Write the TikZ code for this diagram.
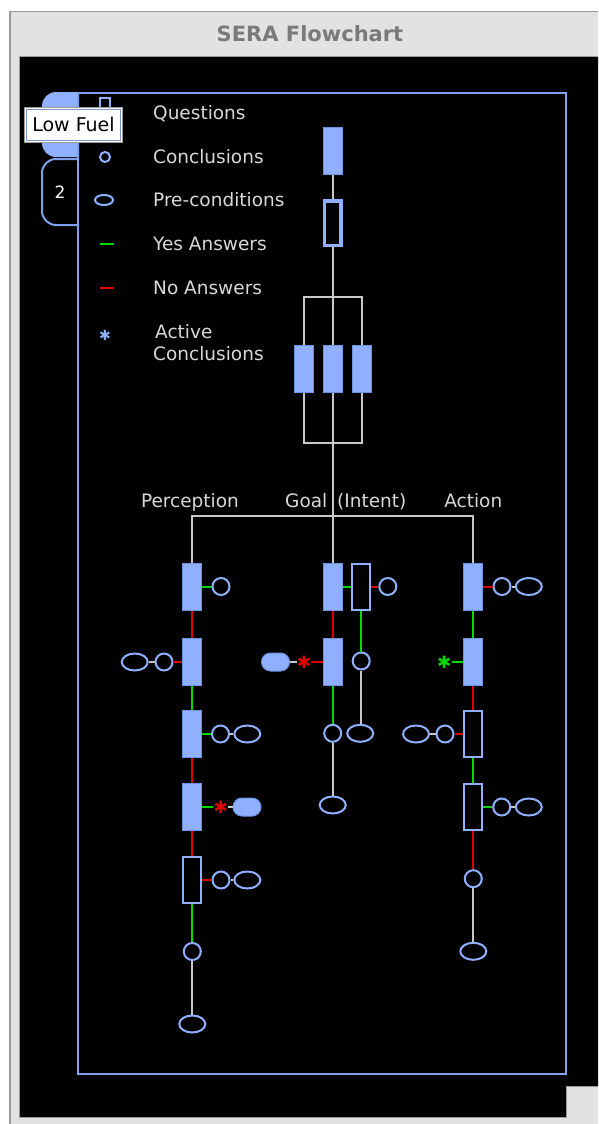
\documentclass[tikz,border=0pt]{standalone}
\usepackage{fontspec}
\setmainfont{DejaVu Sans}
\usetikzlibrary{shapes.geometric,shapes.misc}
\definecolor{qblue}{HTML}{8FB0FF}
\definecolor{qedge}{HTML}{6D92E4}
\definecolor{frm}{HTML}{7FA0EA}
\definecolor{txt}{HTML}{D8D8D8}
\definecolor{wline}{HTML}{C8C8C8}
\definecolor{yes}{HTML}{00D800}
\definecolor{no}{HTML}{E00000}
\definecolor{win}{HTML}{E2E2E2}
\definecolor{winedge}{HTML}{9A9A9A}
\definecolor{ttl}{HTML}{7A7A7A}
\pgfdeclarelayer{back}
\pgfsetlayers{back,main}
\begin{document}
\begin{tikzpicture}[x=1pt,y=-1pt,
  qf/.style={draw=qedge, line width=1pt, fill=qblue, minimum width=19pt, minimum height=47pt, inner sep=0pt},
  qo/.style={draw=qblue, line width=2pt, fill=black, minimum width=18pt, minimum height=46pt, inner sep=0pt},
  qothick/.style={draw=qblue, line width=3.5pt, fill=black, minimum width=16.5pt, minimum height=44.5pt, inner sep=0pt},
  cc/.style={circle, draw=qblue, line width=2pt, minimum size=17pt, inner sep=0pt},
  pe/.style={ellipse, draw=qblue, line width=2pt, minimum width=26pt, minimum height=17pt, inner sep=0pt},
  pf/.style={rounded rectangle, fill=qblue, draw=qedge, line width=1pt, minimum width=28pt, minimum height=18pt, inner sep=0pt},
  ast/.style={text=#1, font=\fontsize{17}{17}\selectfont, inner sep=0pt},
  yl/.style={draw=yes, line width=2pt},
  nl/.style={draw=no, line width=2pt},
  wl/.style={draw=wline, line width=2pt},
  lab/.style={text=txt, font=\fontsize{18.5}{20}\selectfont, inner sep=0pt},
]
\useasboundingbox (0,0) rectangle (598,1124);
\begin{pgfonlayer}{back}
\fill[white] (0,0) rectangle (598,1124);
\fill[win] (9,11) rectangle (598,1124);
\draw[winedge, line width=1.5pt] (9.75,1124) -- (9.75,11.75) -- (598,11.75);
\fill[black] (20,57) -- (598,57) -- (598,1086) -- (566,1086) -- (566,1117) -- (20,1117) -- cycle;
\draw[winedge, line width=1pt] (19.5,1117.5) -- (566.5,1117.5) -- (566.5,1086.5) -- (598,1086.5);
\draw[winedge, line width=1pt] (19.5,1117.5) -- (19.5,56.5) -- (598,56.5);
\end{pgfonlayer}
\node[font=\bfseries\fontsize{21}{22}\selectfont, text=ttl] (title) at (310,34) {SERA Flowchart};

% tabs
\fill[qblue, rounded corners=14pt] (79,92) -- (42,92) -- (42,157) -- (79,157);
\draw[frm, line width=2pt, rounded corners=14pt] (79,159) -- (42,159) -- (42,225) -- (79,225);
\node[text=white, font=\fontsize{17}{18}\selectfont] (tab2) at (60,192) {2};
% frame
\draw[frm, line width=2pt] (78,93) rectangle (566,1074);

% legend
\node[draw=qblue, line width=2pt, minimum width=10pt, minimum height=16pt, inner sep=0pt] (lq) at (105,106) {};
\node[draw=winedge, line width=0.8pt, fill=white, minimum width=98pt, minimum height=35pt, inner sep=0pt,
      font=\fontsize{19}{20}\selectfont, text=black] (tip) at (73.5,124.5) {Low Fuel};
\draw[frm!70!gray, line width=0.6pt] ([shift={(2.5,2.5)}]tip.north west) rectangle ([shift={(-2.5,-2.5)}]tip.south east);
\node[circle, draw=qblue, line width=2pt, minimum size=10pt, inner sep=0pt] (lc) at (105,157) {};
\node[ellipse, draw=qblue, line width=2pt, minimum width=18pt, minimum height=10pt, inner sep=0pt] (lp) at (104,200) {};
\coordinate (ly1) at (100,244); \coordinate (ly2) at (114,244);
\coordinate (ln1) at (100,288); \coordinate (ln2) at (114,288);
\draw[yl] (ly1) -- (ly2);
\draw[nl] (ln1) -- (ln2);
\node[ast=qblue, font=\fontsize{14}{14}\selectfont] (la) at (105,335) {✱};
\node[lab, anchor=base west] (tq) at (153,119) {Questions};
\node[lab, anchor=base west] (tc) at (153,163) {Conclusions};
\node[lab, anchor=base west] (tp) at (153,206) {Pre-conditions};
\node[lab, anchor=base west] (ty) at (153,250.5) {Yes Answers};
\node[lab, anchor=base west] (tn) at (153,294) {No Answers};
\node[lab, anchor=base west] (ta) at (155,338) {Active};
\node[lab, anchor=base west] (tac) at (153,360) {Conclusions};

% top chain
\node[qf] (t1) at (332.7,150.5) {};
\node[qothick] (t2) at (332.7,223.3) {};
\coordinate (ptop) at (332.7,297.3);
\coordinate (pbot) at (332.7,442.7);
\node[qf] (r1) at (304.3,368.5) {};
\node[qf] (r2) at (332.7,368.5) {};
\node[qf] (r3) at (361.7,368.5) {};
\begin{pgfonlayer}{back}
\draw[wl] (r1 |- ptop) rectangle (r3 |- pbot);
\draw[wl] (ptop) -- (pbot);
\end{pgfonlayer}
\draw[wl] (t1.south) -- (t2.north);
\draw[wl] (t2.south) -- (ptop);

% labels
\node[lab, anchor=base] (lper) at (190,507) {Perception};
\node[lab, anchor=base east] (lgoal) at (327.5,507) {Goal};
\node[lab, anchor=base west] (lint) at (337,507) {(Intent)};
\node[lab, anchor=base] (lact) at (473.3,507) {Action};

% Perception
\node[qf] (p1) at (192.3,586.5) {};
\node[cc] (pc1) at (221,586.5) {};
\node[qf] (p2) at (192.3,662) {};
\node[cc] (pc2) at (164,662) {};
\node[pe] (pe2) at (134.7,662) {};
\node[qf] (p3) at (192.3,734) {};
\node[cc] (pc3) at (220.5,734) {};
\node[pe] (pe3) at (247.3,734) {};
\node[qf] (p4) at (192.3,807) {};
\node[ast=no] (px4) at (220.7,807) {✱};
\node[pf] (pf4) at (247,807) {};
\node[qo] (p5) at (192.3,880) {};
\node[cc] (pc5) at (221,880) {};
\node[pe] (pe5) at (247.3,880) {};
\node[cc] (pc6) at (192.3,951.5) {};
\node[pe] (pe7) at (192.3,1024) {};

% Goal
\node[qf] (g1) at (332.7,586.5) {};
\node[qo] (g1b) at (361.2,586.5) {};
\node[cc] (gc1) at (387.8,586.5) {};
\node[cc] (gc2) at (361.2,661) {};
\node[pe] (ge2) at (360.2,733.3) {};
\node[qf] (g2) at (332.7,662) {};
\node[ast=no] (gx2) at (304,662) {✱};
\node[pf] (gf2) at (275.5,662) {};
\node[cc] (gc3) at (332.7,733.3) {};
\node[pe] (ge4) at (332.7,805) {};

% Action
\node[qf] (a1) at (473.3,586.5) {};
\node[cc] (ac1) at (502,586.5) {};
\node[pe] (ae1) at (528.8,586.5) {};
\node[qf] (a2) at (473.3,662) {};
\node[ast=yes] (ax2) at (444.3,662) {✱};
\node[qo] (a3) at (473.3,734) {};
\node[cc] (ac3) at (445,734) {};
\node[pe] (ae3) at (416,734) {};
\node[qo] (a4) at (473.3,807) {};
\node[cc] (ac4) at (501.7,807) {};
\node[pe] (ae4) at (528.8,807) {};
\node[cc] (ac5) at (473.3,878.7) {};
\node[pe] (ae5) at (473.3,951.3) {};

% branch lines
\coordinate (jn) at (332.7,515.7);
\draw[wl] (pbot) -- (g1.north);
\draw[wl] (p1.north) -- (p1.north |- jn) -- (a1.north |- jn) -- (a1.north);

% Perception connectors
\draw[yl] (p1.east) -- (pc1.west);
\draw[nl] (p1.south) -- (p2.north);
\draw[nl] (p2.west) -- (pc2.east);
\draw[wl] (pc2.west) -- (pe2.east);
\draw[yl] (p2.south) -- (p3.north);
\draw[yl] (p3.east) -- (pc3.west);
\draw[wl] (pc3.east) -- (pe3.west);
\draw[nl] (p3.south) -- (p4.north);
\draw[yl] (p4.east) -- (px4.west);
\draw[wl] (px4.east) -- (pf4.west);
\draw[nl] (p4.south) -- (p5.north);
\draw[nl] (p5.east) -- (pc5.west);
\draw[wl] (pc5.east) -- (pe5.west);
\draw[yl] (p5.south) -- (pc6.north);
\draw[wl] (pc6.south) -- (pe7.north);

% Goal connectors
\draw[yl] (g1.east) -- (g1b.west);
\draw[nl] (g1b.east) -- (gc1.west);
\draw[yl] (g1b.south) -- (gc2.north);
\draw[wl] (gc2.south) -- (gc2.south |- ge2.north);
\draw[nl] (g1.south) -- (g2.north);
\draw[nl] (g2.west) -- (gx2.east);
\draw[wl] (gx2.west) -- (gf2.east);
\draw[yl] (g2.south) -- (gc3.north);
\draw[wl] (gc3.south) -- (ge4.north);

% Action connectors
\draw[nl] (a1.east) -- (ac1.west);
\draw[wl] (ac1.east) -- (ae1.west);
\draw[yl] (a1.south) -- (a2.north);
\draw[yl] (a2.west) -- (ax2.east);
\draw[nl] (a2.south) -- (a3.north);
\draw[nl] (a3.west) -- (ac3.east);
\draw[wl] (ac3.west) -- (ae3.east);
\draw[yl] (a3.south) -- (a4.north);
\draw[yl] (a4.east) -- (ac4.west);
\draw[wl] (ac4.east) -- (ae4.west);
\draw[nl] (a4.south) -- (ac5.north);
\draw[wl] (ac5.south) -- (ae5.north);
\end{tikzpicture}
\end{document}
